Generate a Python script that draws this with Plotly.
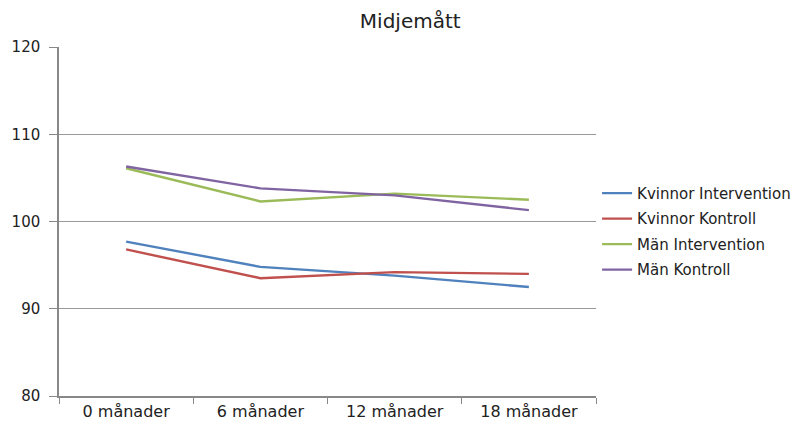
import plotly.graph_objects as go

categories = ["0 månader", "6 månader", "12 månader", "18 månader"]
kvinnor_intervention = [97.7, 94.8, 93.8, 92.5]
kvinnor_kontroll = [96.8, 93.5, 94.2, 94.0]
man_intervention = [106.1, 102.3, 103.2, 102.5]
man_kontroll = [106.3, 103.8, 103.0, 101.3]
series_names = ["Kvinnor Intervention", "Kvinnor Kontroll", "Män Intervention", "Män Kontroll"]
colors = ["#4F81BD", "#C0504D", "#9BBB59", "#8064A2"]
y_ticks = [80, 90, 100, 110, 120]

fig = go.Figure()
for i, (name, vals, col) in enumerate(zip(series_names,
        [kvinnor_intervention, kvinnor_kontroll, man_intervention, man_kontroll], colors)):
    fig.add_trace(go.Scatter(x=categories, y=vals, mode="lines", name=name,
                             line=dict(color=col, width=2.4), legendgroup=str(i)))

font = "DejaVu Sans, sans-serif"
fig.update_layout(
    width=806, height=423,
    margin=dict(l=59, r=210, t=47, b=27, autoexpand=False),
    paper_bgcolor="white", plot_bgcolor="white",
    font=dict(family=font, size=15, color="#222"),
    title=dict(text="Midjemått", x=0.509, xanchor="center", y=0.95, yanchor="middle",
               font=dict(size=20, color="#222")),
    showlegend=True,
    legend=dict(x=1.002, xanchor="left", y=0.628, yanchor="top",
                font=dict(size=15, color="#222"), tracegroupgap=3,
                itemwidth=30, bgcolor="rgba(0,0,0,0)"),
    xaxis=dict(type="category", range=[-0.5, 3.5], tickson="boundaries",
               ticks="outside", ticklen=6, tickcolor="#888",
               showline=True, linecolor="#888", linewidth=1.5,
               showgrid=False, tickfont=dict(size=16), automargin=False),
    yaxis=dict(range=[80, 120], tickvals=y_ticks, ticks="outside", ticklen=8,
               tickcolor="#888", showline=True, linecolor="#888", linewidth=1.5,
               showgrid=True, gridcolor="#999", gridwidth=1.3, zeroline=False,
               ticklabelstandoff=6, tickfont=dict(size=15), automargin=False),
)
fig.write_html("out.html", config={"displayModeBar": False},
               post_script="document.body.style.margin='0';document.body.style.overflow='hidden';")
